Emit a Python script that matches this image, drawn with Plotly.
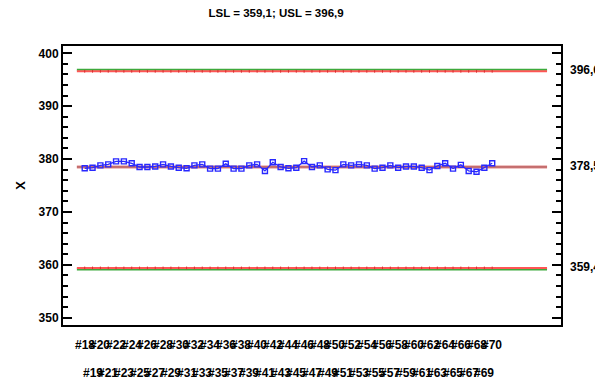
import plotly.graph_objects as go

# Subgroup labels and individual measurements
samples = [f"#{i}" for i in range(18, 71)]
x_values = [
    378.25, 378.37, 378.8, 379.0, 379.57, 379.57, 379.2, 378.5, 378.5, 378.6,
    379.0, 378.6, 378.37, 378.25, 378.8, 379.0, 378.2, 378.2, 379.1, 378.2,
    378.2, 378.8, 379.0, 377.75, 379.4, 378.5, 378.25, 378.37, 379.6, 378.5,
    378.8, 378.05, 377.9, 379.0, 378.8, 379.0, 378.8, 378.2, 378.37, 378.8,
    378.37, 378.6, 378.6, 378.37, 377.9, 378.7, 379.2, 378.2, 378.9, 377.75,
    377.6, 378.37, 379.2,
]

# Specification and control limits
LSL, USL = 359.1, 396.9
LCL, CL, UCL = 359.4, 378.5, 396.6
limit_labels = ["396,6", "378,5", "359,4"]

FONT = "Liberation Sans, Arial"

idx = list(range(len(samples)))
x0, x1 = -1, len(samples) + 6

fig = go.Figure()

# Specification limits (green)
for v in (USL, LSL):
    fig.add_trace(go.Scatter(x=[x0, x1], y=[v, v], mode="lines",
                             line=dict(color="rgb(60,170,60)", width=2),
                             hoverinfo="skip", showlegend=False))

# Control limits (red with faint marks at each subgroup)
for v in (UCL, LCL):
    fig.add_trace(go.Scatter(x=[x0, x1], y=[v, v], mode="lines",
                             line=dict(color="rgb(255,85,85)", width=2),
                             hoverinfo="skip", showlegend=False))
    fig.add_trace(go.Scatter(x=idx, y=[v] * len(idx), mode="markers",
                             marker=dict(symbol="line-ns", size=2,
                                         line=dict(color="rgb(215,50,50)", width=1)),
                             hoverinfo="skip", showlegend=False))

# Centre line
fig.add_trace(go.Scatter(x=[x0, x1], y=[CL, CL], mode="lines",
                         line=dict(color="rgba(225,140,140,0.7)", width=3.5),
                         hoverinfo="skip", showlegend=False))
fig.add_trace(go.Scatter(x=[x0, x1], y=[CL, CL], mode="lines",
                         line=dict(color="rgb(160,50,50)", width=1),
                         hoverinfo="skip", showlegend=False))

# Measurements
fig.add_trace(go.Scatter(x=idx, y=x_values, mode="lines+markers",
                         line=dict(color="rgb(40,40,255)", width=1.3),
                         marker=dict(symbol="square-open", size=5,
                                     color="rgb(40,40,255)",
                                     line=dict(width=1.4)),
                         showlegend=False))

annotations = []
# Two staggered rows of subgroup labels
for i, s in enumerate(samples):
    annotations.append(dict(x=i, y=0, xref="x", yref="paper", text=f"<b>{s}</b>",
                            showarrow=False, xanchor="center", yanchor="middle",
                            yshift=-20 if i % 2 == 0 else -48,
                            font=dict(family=FONT, size=12, color="black")))
# Limit values at the right edge
for v, t in zip((UCL, CL, LCL), limit_labels):
    annotations.append(dict(x=1, y=v, xref="paper", yref="y", text=f"<b>{t}</b>",
                            showarrow=False, xanchor="left", yanchor="middle",
                            xshift=7, yshift=1,
                            font=dict(family=FONT, size=12, color="black")))

fig.update_layout(
    width=595, height=387,
    margin=dict(l=63, r=34, t=46, b=62),
    paper_bgcolor="white", plot_bgcolor="white",
    font=dict(family=FONT, size=12, color="black"),
    title=dict(text="<b>LSL = 359,1; USL = 396,9</b>", x=0.464, xanchor="center",
               y=1 - 13 / 387, yanchor="middle", xref="container", yref="container",
               font=dict(family=FONT, size=11.5, color="black")),
    xaxis=dict(range=[-2.77, 60.78], showgrid=False, zeroline=False,
               showticklabels=False, ticks="",
               showline=True, linecolor="black", linewidth=2, mirror=True),
    yaxis=dict(range=[348.62, 401.38], showgrid=False, zeroline=False,
               tickvals=[350, 360, 370, 380, 390, 400],
               ticktext=[f"<b>{v}</b>" for v in [350, 360, 370, 380, 390, 400]],
               ticks="inside", ticklen=9, tickwidth=2, tickcolor="black",
               minor=dict(dtick=2, ticks="inside", ticklen=5, tickwidth=2,
                          tickcolor="black"),
               showline=True, linecolor="black", linewidth=2, mirror="ticks",
               tickfont=dict(family=FONT, size=12, color="black"),
               title=dict(text="<b>X</b>", standoff=10,
                          font=dict(family=FONT, size=13, color="black"))),
    annotations=annotations,
)

fig.write_html("out.html")
